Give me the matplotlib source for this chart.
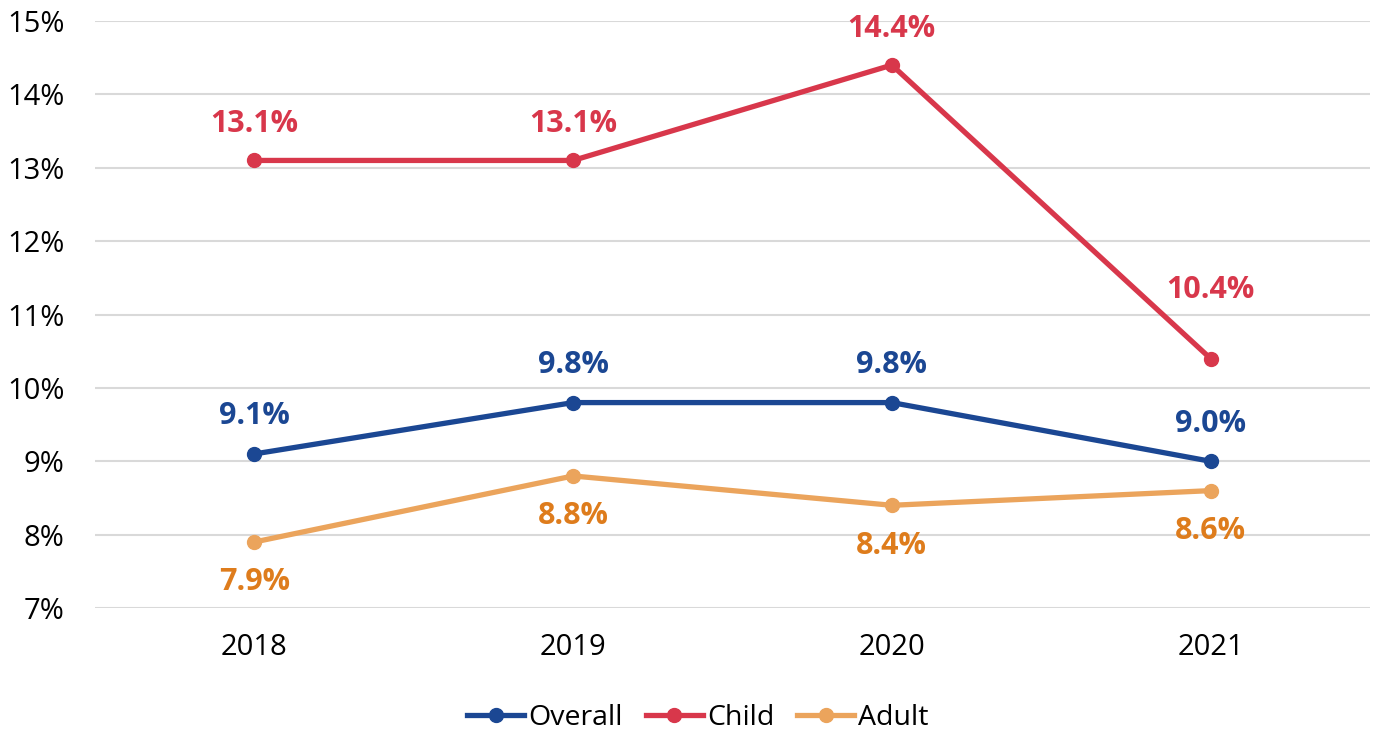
import matplotlib
matplotlib.use("Agg")
import matplotlib.pyplot as plt

plt.rcParams['font.family'] = ['Open Sans', 'DejaVu Sans']

years = ['2018', '2019', '2020', '2021']
overall = [9.1, 9.8, 9.8, 9.0]
child = [13.1, 13.1, 14.4, 10.4]
adult = [7.9, 8.8, 8.4, 8.6]

blue = '#1b4793'
red = '#d8374b'
orange = '#eba45c'
orange_txt = '#de7c1c'

fig = plt.figure(figsize=(13.81, 7.33), dpi=100)
ax = fig.add_axes([0.0688, 0.1705, 0.9232, 0.8008])

x = range(len(years))
ax.plot(x, overall, color=blue, lw=3.8, marker='o', ms=10, label='Overall', zorder=3)
ax.plot(x, child, color=red, lw=3.8, marker='o', ms=10, label='Child', zorder=3)
ax.plot(x, adult, color=orange, lw=3.8, marker='o', ms=10, label='Adult', zorder=3)

# label offsets in points (the last Child label sits higher)
child_off = [26, 26, 26, 49]
for i, v in enumerate(child):
    ax.annotate(f'{v:.1f}%', (i, v), xytext=(0, child_off[i]), textcoords='offset points',
                ha='center', va='center', color=red, fontsize=22, fontweight='bold')
for i, v in enumerate(overall):
    ax.annotate(f'{v:.1f}%', (i, v), xytext=(0, 27), textcoords='offset points',
                ha='center', va='center', color=blue, fontsize=22, fontweight='bold')
for i, v in enumerate(adult):
    ax.annotate(f'{v:.1f}%', (i, v), xytext=(0, -29), textcoords='offset points',
                ha='center', va='center', color=orange_txt, fontsize=22, fontweight='bold')

ax.set_xlim(-0.5, 3.5)
ax.set_ylim(7, 15)
ax.set_yticks(range(7, 16))
ax.set_yticklabels([f'{t}%' for t in range(7, 16)])
ax.set_xticks(list(x))
ax.set_xticklabels(years)
ax.tick_params(axis='both', length=0, labelsize=21, colors='black')
ax.tick_params(axis='x', pad=18)
ax.tick_params(axis='y', pad=22)
ax.grid(axis='y', color='#d9d9d9', lw=1.5)
ax.set_axisbelow(True)
for s in ax.spines.values():
    s.set_visible(False)

ax.legend(loc='lower center', bbox_to_anchor=(0.473, -0.245), ncol=3, frameon=False,
          fontsize=20.5, handlelength=2.0, handletextpad=0.15, columnspacing=0.8,
          borderpad=0.2)

fig.savefig('out.png', dpi=100)
